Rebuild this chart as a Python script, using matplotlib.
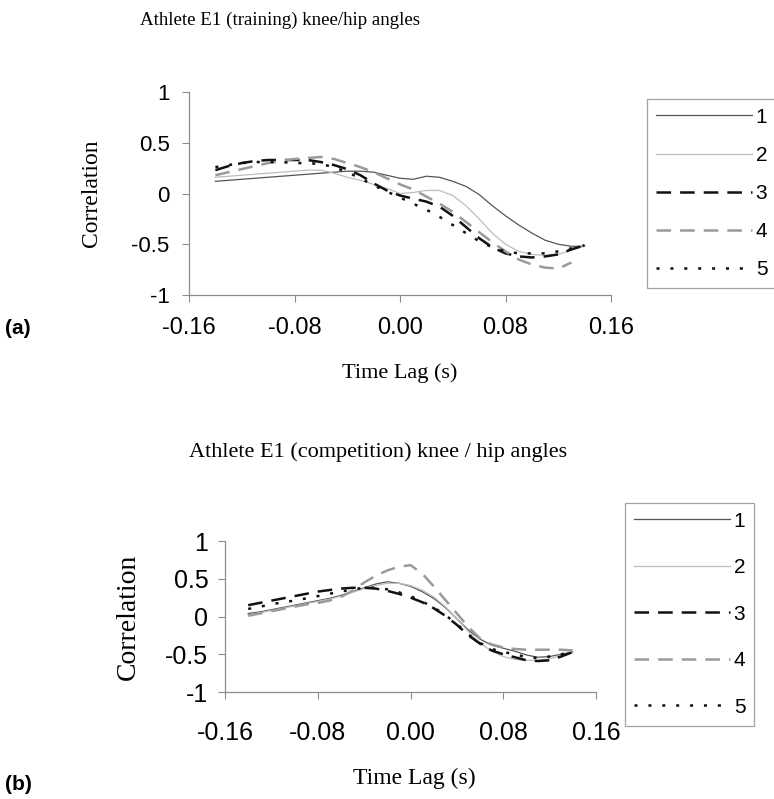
import numpy as np
import matplotlib
matplotlib.use('Agg')
import matplotlib.pyplot as plt
from matplotlib.lines import Line2D

plt.rcParams['lines.scale_dashes'] = False

# time lags (s) used for both trials
lag = [-0.14, -0.13, -0.12, -0.11, -0.10, -0.09, -0.08, -0.07, -0.06, -0.05,
       -0.04, -0.03, -0.02, -0.01, 0.00, 0.01, 0.02, 0.03, 0.04, 0.05,
       0.06, 0.07, 0.08, 0.09, 0.10, 0.11, 0.12, 0.13, 0.14]

# (a) training
tr1 = [0.12, 0.13, 0.14, 0.15, 0.16, 0.17, 0.18, 0.19, 0.20, 0.21,
       0.22, 0.22, 0.21, 0.18, 0.15, 0.14, 0.17, 0.16, 0.12, 0.07,
       -0.01, -0.12, -0.22, -0.31, -0.39, -0.46, -0.50, -0.52, -0.52]
tr2 = [0.16, 0.17, 0.18, 0.19, 0.20, 0.21, 0.22, 0.23, 0.23, 0.20,
       0.16, 0.13, 0.09, 0.05, 0.00, 0.01, 0.03, 0.03, -0.02, -0.12,
       -0.25, -0.39, -0.50, -0.57, -0.60, -0.61, -0.60, -0.56, -0.52]
tr3 = [0.23, 0.27, 0.30, 0.32, 0.33, 0.33, 0.33, 0.33, 0.31, 0.28,
       0.24, 0.18, 0.10, 0.03, -0.02, -0.05, -0.08, -0.13, -0.22, -0.33,
       -0.44, -0.53, -0.59, -0.62, -0.63, -0.62, -0.60, -0.55, -0.51]
tr4 = [0.18, 0.21, 0.24, 0.27, 0.30, 0.32, 0.34, 0.35, 0.36, 0.34,
       0.30, 0.26, 0.21, 0.15, 0.09, 0.04, -0.03, -0.10, -0.18, -0.28,
       -0.38, -0.48, -0.57, -0.65, -0.70, -0.73, -0.74, -0.68, np.nan]
tr5 = [0.26, 0.28, 0.30, 0.31, 0.31, 0.31, 0.30, 0.30, 0.29, 0.26,
       0.21, 0.15, 0.08, 0.02, -0.04, -0.10, -0.16, -0.23, -0.31, -0.39,
       -0.47, -0.53, -0.57, -0.59, -0.59, -0.59, -0.57, -0.54, -0.51]

# (b) competition
co1 = [0.04, 0.06, 0.09, 0.12, 0.15, 0.18, 0.21, 0.24, 0.28, 0.33,
       0.38, 0.43, 0.46, 0.44, 0.40, 0.33, 0.24, 0.12, -0.03, -0.18,
       -0.30, -0.38, -0.42, -0.46, -0.51, -0.54, -0.53, -0.50, -0.47]
co2 = [0.02, 0.05, 0.08, 0.11, 0.14, 0.17, 0.20, 0.23, 0.27, 0.32,
       0.37, 0.41, 0.44, 0.44, 0.41, 0.35, 0.26, 0.13, -0.03, -0.20,
       -0.35, -0.46, -0.53, -0.57, -0.58, -0.58, -0.56, -0.52, -0.48]
co3 = [0.15, 0.18, 0.21, 0.24, 0.27, 0.30, 0.33, 0.35, 0.37, 0.38,
       0.38, 0.37, 0.34, 0.30, 0.25, 0.19, 0.11, 0.01, -0.11, -0.25,
       -0.36, -0.45, -0.50, -0.54, -0.58, -0.59, -0.58, -0.53, -0.47]
co4 = [0.01, 0.04, 0.07, 0.10, 0.13, 0.16, 0.18, 0.21, 0.26, 0.34,
       0.45, 0.54, 0.61, 0.66, 0.68, 0.57, 0.40, 0.22, 0.04, -0.14,
       -0.29, -0.37, -0.41, -0.43, -0.44, -0.44, -0.44, -0.44, -0.45]
co5 = [0.10, 0.13, 0.16, 0.19, 0.21, 0.24, 0.27, 0.30, 0.33, 0.36,
       0.38, 0.38, 0.36, 0.32, 0.27, 0.20, 0.12, 0.02, -0.10, -0.24,
       -0.35, -0.43, -0.47, -0.50, -0.54, -0.55, -0.53, -0.50, -0.47]

trial_names = ['1', '2', '3', '4', '5']
xticks = [-0.16, -0.08, 0.00, 0.08, 0.16]
yticks = [-1, -0.5, 0, 0.5, 1]
ytick_labels = ['-1', '-0.5', '0', '0.5', '1']

# line styles per trial
styles = [dict(color='#555555', lw=0.9, ls='-'),
          dict(color='#bdbdbd', lw=0.9, ls='-'),
          dict(color='#111111', lw=1.8, dashes=(10.5, 6.5)),
          dict(color='#9a9a9a', lw=1.8, dashes=(10.5, 6.5)),
          dict(color='#111111', lw=1.8, dashes=(2.2, 7.8))]

W, H = 774, 799
fig = plt.figure(figsize=(W / 100, H / 100), dpi=100)

def px(x, y):
    return x / W, 1 - y / H

def panel(rect, series, xfs, yfs, xpad, ypad):
    ax = fig.add_axes(rect)
    for y, st in zip(series, styles):
        ax.plot(lag, y, **st)
    ax.set_xlim(-0.16, 0.16)
    ax.set_ylim(-1, 1)
    ax.set_xticks(xticks)
    ax.set_xticklabels(['%.2f' % v for v in xticks], fontsize=xfs,
                       family='Liberation Sans')
    ax.set_yticks(yticks)
    ax.set_yticklabels(ytick_labels, fontsize=yfs, family='Liberation Sans')
    ax.tick_params(axis='x', direction='out', length=5, width=0.8,
                   color='#8c8c8c', pad=xpad)
    ax.tick_params(axis='y', direction='out', length=5, width=0.8,
                   color='#8c8c8c', pad=ypad)
    for s in ['top', 'right']:
        ax.spines[s].set_visible(False)
    for s in ['left', 'bottom']:
        ax.spines[s].set_color('#8c8c8c')
        ax.spines[s].set_linewidth(0.9)
    return ax

# (a) training panel
l, b = px(189, 295)
ax1 = panel([l, b, (611 - 189) / W, (295 - 92) / H],
            [tr1, tr2, tr3, tr4, tr5], 17, 16, 11, 9)
# (b) competition panel
l, b = px(225, 692)
ax2 = panel([l, b, (596 - 225) / W, (692 - 541) / H],
            [co1, co2, co3, co4, co5], 18, 18, 16, 7)

handles = [Line2D([], [], **st) for st in styles]

def legend(x, y, spacing):
    leg = fig.legend(handles, trial_names, loc='upper left',
                     bbox_to_anchor=px(x, y), borderaxespad=0,
                     prop={'family': 'Liberation Sans', 'size': 15},
                     handlelength=4.6, handletextpad=0.2, borderpad=0.42,
                     labelspacing=spacing, fancybox=False, frameon=True)
    leg.get_frame().set_edgecolor('#8c8c8c')
    leg.get_frame().set_linewidth(0.9)
    return leg

legend(647, 99, 0.92)
legend(625, 503, 1.32)

serif = 'Liberation Serif'
fig.text(*px(280, 20), 'Athlete E1 (training) knee/hip angles',
         family=serif, fontsize=13.6, ha='center', va='center')
fig.text(*px(378, 452), 'Athlete E1 (competition) knee / hip angles',
         family=serif, fontsize=16, ha='center', va='center')
fig.text(*px(400, 373), 'Time Lag (s)', family=serif, fontsize=16,
         ha='center', va='center')
fig.text(*px(414, 778), 'Time Lag (s)', family=serif, fontsize=17,
         ha='center', va='center')
fig.text(*px(92, 193), 'Correlation', family=serif, fontsize=17,
         rotation=90, ha='center', va='center')
fig.text(*px(128, 617), 'Correlation', family=serif, fontsize=20,
         rotation=90, ha='center', va='center')
fig.text(*px(5, 329), '(a)', family='Liberation Sans', fontsize=15,
         fontweight='bold', ha='left', va='center')
fig.text(*px(5, 785), '(b)', family='Liberation Sans', fontsize=15,
         fontweight='bold', ha='left', va='center')

fig.savefig('out.png', dpi=100, facecolor='white')
